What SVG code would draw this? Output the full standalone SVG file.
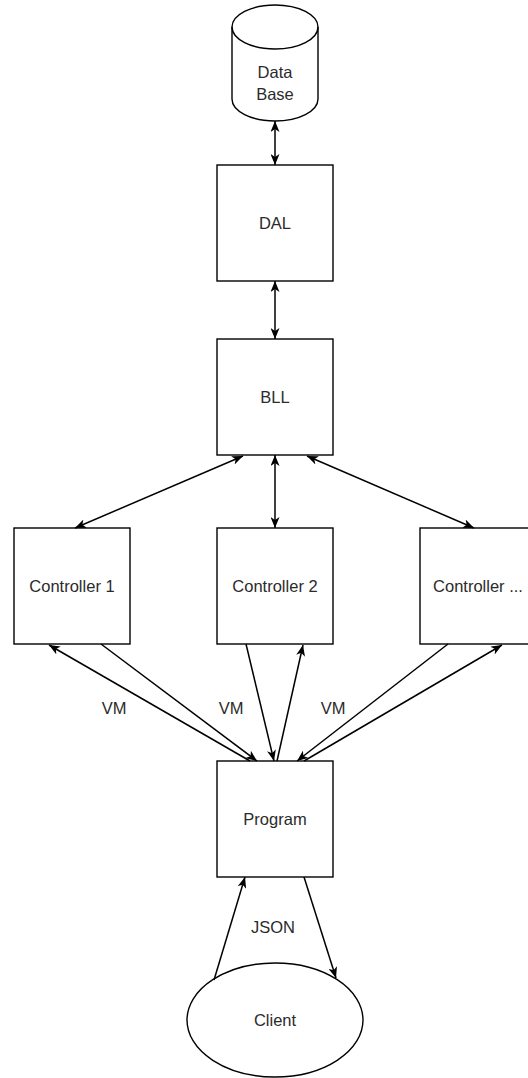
<svg xmlns="http://www.w3.org/2000/svg" width="528" height="1078" viewBox="0 0 528 1078">
  <style>
    .box { fill: #ffffff; stroke: #000000; stroke-width: 1.4; }
    .lbl { font-family: "Liberation Sans", Arial, sans-serif; font-size: 16.5px; fill: #2b2b2b; text-anchor: middle; }
    .edge { fill: none; stroke: #000000; stroke-width: 1.5; }
    .one { marker-end: url(#head); }
    .two { marker-start: url(#head); marker-end: url(#head); }
  </style>
  <defs>
    <marker id="head" viewBox="0 0 11 9" refX="11" refY="4.5" markerWidth="11" markerHeight="9" markerUnits="userSpaceOnUse" orient="auto-start-reverse">
      <path d="M0,0 L11,4.5 L0,9 L3,4.5 Z" fill="#000000"/>
    </marker>
  </defs>
  <rect x="0" y="0" width="528" height="1078" fill="#ffffff"/>

  <!-- Database cylinder -->
  <g id="database">
    <path class="box" d="M232,27 A43,22 0 0 1 318,27 L318,99 A43,22 0 0 1 232,99 Z"/>
    <path class="edge" d="M232,27 A43,22 0 0 0 318,27"/>
    <text class="lbl" x="275" y="78">Data</text>
    <text class="lbl" x="275" y="100">Base</text>
  </g>

  <g id="dal">
    <rect class="box" x="217" y="165" width="116" height="116"/>
    <text class="lbl" x="275" y="229">DAL</text>
  </g>

  <g id="bll">
    <rect class="box" x="217" y="339" width="116" height="116"/>
    <text class="lbl" x="275" y="403">BLL</text>
  </g>

  <g id="controller-1">
    <rect class="box" x="14" y="528" width="116" height="116"/>
    <text class="lbl" x="72" y="592">Controller 1</text>
  </g>

  <g id="controller-2">
    <rect class="box" x="217" y="528" width="116" height="116"/>
    <text class="lbl" x="275" y="592">Controller 2</text>
  </g>

  <g id="controller-n">
    <rect class="box" x="420" y="528" width="116" height="116"/>
    <text class="lbl" x="478" y="592">Controller ...</text>
  </g>

  <g id="program">
    <rect class="box" x="217" y="761" width="116" height="116"/>
    <text class="lbl" x="275" y="825">Program</text>
  </g>

  <g id="client">
    <ellipse class="box" cx="275" cy="1020" rx="88" ry="57"/>
    <text class="lbl" x="275" y="1026">Client</text>
  </g>

  <!-- Connectors -->
  <g id="connectors">
    <line class="edge two" x1="275" y1="121" x2="275" y2="165"/>
    <line class="edge two" x1="275" y1="281" x2="275" y2="339"/>
    <line class="edge two" x1="275" y1="455" x2="275" y2="528"/>
    <line class="edge two" x1="243" y1="456" x2="75" y2="528"/>
    <line class="edge two" x1="307" y1="456" x2="474" y2="528"/>

    <!-- Controllers to Program and back -->
    <line class="edge one" x1="250" y1="761" x2="49" y2="645"/>
    <line class="edge one" x1="101" y1="644" x2="257" y2="761"/>
    <line class="edge one" x1="246" y1="644" x2="274" y2="761"/>
    <line class="edge one" x1="277" y1="761" x2="303" y2="645"/>
    <line class="edge one" x1="448" y1="644" x2="297" y2="761"/>
    <line class="edge one" x1="304" y1="761" x2="502" y2="645"/>

    <!-- Program and Client -->
    <line class="edge one" x1="214" y1="980" x2="245" y2="877"/>
    <line class="edge one" x1="304" y1="877" x2="336" y2="978"/>

    <text class="lbl" x="114" y="714">VM</text>
    <text class="lbl" x="231" y="714">VM</text>
    <text class="lbl" x="333" y="714">VM</text>
    <text class="lbl" x="273" y="933">JSON</text>
  </g>
</svg>
